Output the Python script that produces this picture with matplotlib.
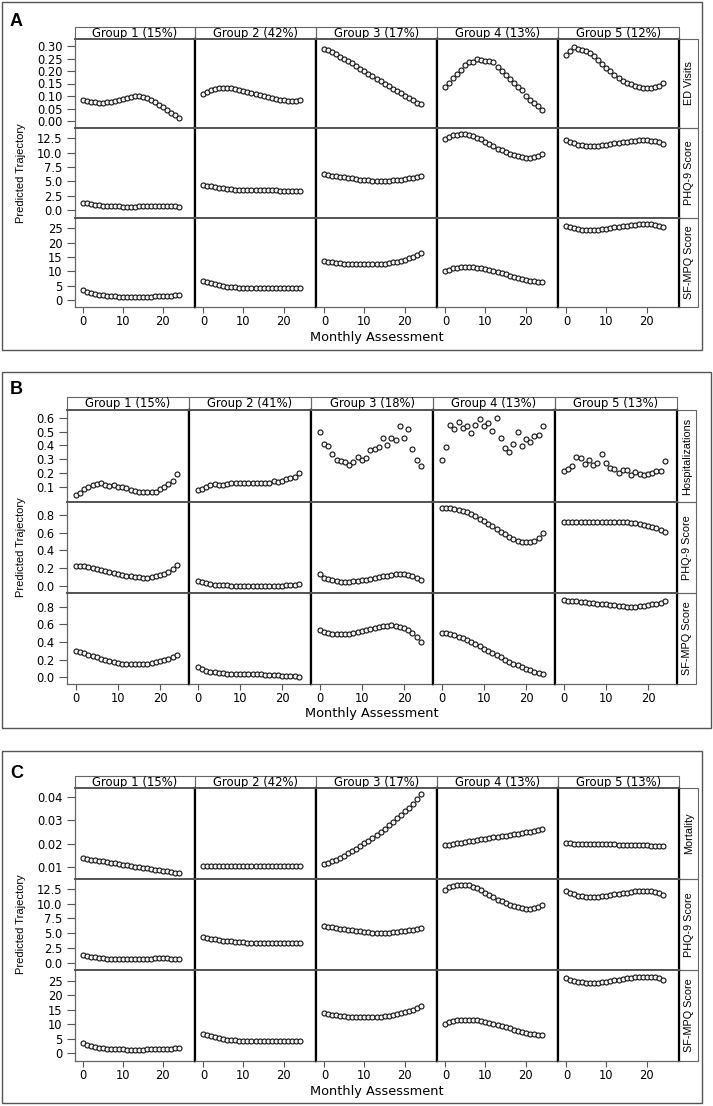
import numpy as np
import matplotlib.pyplot as plt
from matplotlib.patches import Rectangle

W, H = 713, 1106
months = list(range(25))

# ---- panel A: ED visits / PHQ-9 / SF-MPQ ----
A_groups = ["Group 1 (15%)", "Group 2 (42%)", "Group 3 (17%)", "Group 4 (13%)", "Group 5 (12%)"]
A_ed = [
    [0.086, 0.081, 0.077, 0.075, 0.074, 0.074, 0.075, 0.078, 0.082, 0.086, 0.090, 0.094, 0.097,
     0.099, 0.099, 0.097, 0.093, 0.086, 0.077, 0.066, 0.055, 0.044, 0.033, 0.023, 0.014],
    [0.108, 0.116, 0.123, 0.128, 0.132, 0.134, 0.133, 0.131, 0.128, 0.124, 0.120, 0.116, 0.112,
     0.107, 0.103, 0.099, 0.095, 0.091, 0.088, 0.085, 0.083, 0.081, 0.081, 0.082, 0.085],
    [0.289, 0.284, 0.276, 0.268, 0.257, 0.249, 0.241, 0.231, 0.220, 0.209, 0.199, 0.189, 0.180,
     0.169, 0.159, 0.149, 0.140, 0.129, 0.120, 0.111, 0.101, 0.092, 0.083, 0.073, 0.068],
    [0.136, 0.153, 0.171, 0.188, 0.205, 0.225, 0.235, 0.237, 0.249, 0.244, 0.241, 0.239, 0.236,
     0.216, 0.199, 0.184, 0.169, 0.153, 0.137, 0.123, 0.099, 0.085, 0.072, 0.060, 0.045],
    [0.264, 0.280, 0.296, 0.289, 0.284, 0.280, 0.273, 0.260, 0.244, 0.228, 0.212, 0.200, 0.185,
     0.173, 0.161, 0.153, 0.147, 0.140, 0.136, 0.133, 0.133, 0.133, 0.137, 0.141, 0.153],
]
phq = [
    [1.3, 1.15, 1.0, 0.9, 0.8, 0.75, 0.7, 0.7, 0.65, 0.62, 0.6, 0.6, 0.6, 0.6, 0.62, 0.65, 0.68,
     0.7, 0.72, 0.72, 0.72, 0.72, 0.7, 0.68, 0.6],
    [4.4, 4.25, 4.1, 3.95, 3.85, 3.75, 3.65, 3.6, 3.55, 3.5, 3.45, 3.42, 3.4, 3.4, 3.4, 3.4, 3.4,
     3.4, 3.4, 3.38, 3.36, 3.33, 3.3, 3.28, 3.27],
    [6.2, 6.1, 6.0, 5.9, 5.8, 5.7, 5.6, 5.5, 5.4, 5.3, 5.2, 5.15, 5.1, 5.05, 5.05, 5.05, 5.1,
     5.15, 5.2, 5.3, 5.4, 5.5, 5.6, 5.75, 5.95],
    [12.4, 12.8, 13.0, 13.15, 13.2, 13.2, 13.1, 12.9, 12.6, 12.3, 11.9, 11.5, 11.1, 10.7, 10.4,
     10.1, 9.8, 9.6, 9.4, 9.25, 9.15, 9.15, 9.25, 9.45, 9.8],
    [12.2, 11.9, 11.6, 11.4, 11.3, 11.2, 11.15, 11.15, 11.2, 11.3, 11.4, 11.5, 11.6, 11.7, 11.8,
     11.9, 12.0, 12.1, 12.15, 12.2, 12.2, 12.1, 12.0, 11.8, 11.5],
]
sfmpq = [
    [3.4, 2.9, 2.4, 2.0, 1.8, 1.6, 1.5, 1.4, 1.3, 1.2, 1.2, 1.1, 1.1, 1.1, 1.1, 1.1, 1.2, 1.2,
     1.3, 1.3, 1.3, 1.4, 1.5, 1.6, 1.6],
    [6.7, 6.2, 5.8, 5.4, 5.1, 4.8, 4.6, 4.5, 4.4, 4.3, 4.2, 4.2, 4.2, 4.2, 4.3, 4.3, 4.3, 4.3,
     4.3, 4.3, 4.3, 4.3, 4.3, 4.2, 4.1],
    [13.7, 13.4, 13.2, 13.0, 12.8, 12.7, 12.6, 12.5, 12.5, 12.4, 12.4, 12.4, 12.5, 12.5, 12.6,
     12.7, 12.9, 13.1, 13.4, 13.7, 14.1, 14.5, 15.0, 15.6, 16.4],
    [10.1, 10.6, 11.0, 11.3, 11.5, 11.6, 11.6, 11.5, 11.3, 11.1, 10.8, 10.5, 10.1, 9.7, 9.3, 8.9,
     8.5, 8.1, 7.7, 7.3, 7.0, 6.7, 6.5, 6.3, 6.3],
    [25.9, 25.4, 25.0, 24.7, 24.5, 24.4, 24.3, 24.3, 24.4, 24.6, 24.8, 25.0, 25.3, 25.5, 25.7,
     25.9, 26.1, 26.3, 26.4, 26.5, 26.5, 26.4, 26.2, 25.9, 25.5],
]

# ---- panel B: hospitalizations / PHQ-9 / SF-MPQ (probabilities) ----
B_groups = ["Group 1 (15%)", "Group 2 (41%)", "Group 3 (18%)", "Group 4 (13%)", "Group 5 (13%)"]
B_hosp = [
    [0.041, 0.060, 0.089, 0.100, 0.114, 0.121, 0.128, 0.114, 0.112, 0.119, 0.100, 0.100, 0.092,
     0.080, 0.073, 0.065, 0.068, 0.068, 0.065, 0.068, 0.087, 0.103, 0.123, 0.147, 0.192],
    [0.080, 0.089, 0.103, 0.116, 0.121, 0.119, 0.119, 0.123, 0.128, 0.133, 0.128, 0.128, 0.130,
     0.130, 0.130, 0.128, 0.128, 0.130, 0.147, 0.138, 0.143, 0.162, 0.166, 0.171, 0.200],
    [0.497, 0.413, 0.394, 0.341, 0.298, 0.289, 0.279, 0.262, 0.281, 0.315, 0.294, 0.308, 0.365,
     0.373, 0.389, 0.452, 0.406, 0.452, 0.437, 0.543, 0.452, 0.519, 0.373, 0.296, 0.255],
    [0.293, 0.389, 0.550, 0.521, 0.567, 0.526, 0.538, 0.490, 0.550, 0.588, 0.538, 0.560, 0.502,
     0.598, 0.452, 0.382, 0.353, 0.411, 0.497, 0.394, 0.447, 0.427, 0.471, 0.476, 0.543],
    [0.219, 0.233, 0.250, 0.315, 0.310, 0.267, 0.293, 0.262, 0.272, 0.341, 0.272, 0.238, 0.231,
     0.204, 0.224, 0.224, 0.188, 0.207, 0.197, 0.188, 0.195, 0.202, 0.214, 0.214, 0.291],
]
B_phq = [
    [0.225, 0.225, 0.22, 0.21, 0.2, 0.19, 0.18, 0.165, 0.155, 0.145, 0.135, 0.125, 0.115, 0.105,
     0.10, 0.095, 0.09, 0.09, 0.095, 0.105, 0.12, 0.135, 0.16, 0.19, 0.235],
    [0.055, 0.045, 0.03, 0.02, 0.012, 0.006, 0.003, 0.002, 0.001, 0.0, 0.0, 0.0, 0.0, 0.0, 0.0,
     0.0, 0.0, 0.0, 0.0, 0.0, 0.0, 0.002, 0.005, 0.012, 0.018],
    [0.13, 0.09, 0.07, 0.06, 0.05, 0.045, 0.045, 0.045, 0.05, 0.055, 0.06, 0.065, 0.075, 0.085,
     0.095, 0.105, 0.115, 0.125, 0.13, 0.13, 0.13, 0.12, 0.105, 0.085, 0.06],
    [0.88, 0.88, 0.875, 0.87, 0.86, 0.85, 0.83, 0.81, 0.79, 0.76, 0.73, 0.70, 0.67, 0.64, 0.61,
     0.58, 0.55, 0.53, 0.51, 0.495, 0.49, 0.495, 0.51, 0.545, 0.595],
    [0.72, 0.72, 0.72, 0.72, 0.72, 0.72, 0.72, 0.725, 0.725, 0.725, 0.725, 0.725, 0.725, 0.72,
     0.72, 0.715, 0.71, 0.705, 0.70, 0.69, 0.68, 0.665, 0.65, 0.63, 0.605],
]
B_sf = [
    [0.30, 0.285, 0.27, 0.255, 0.24, 0.225, 0.21, 0.195, 0.18, 0.17, 0.16, 0.155, 0.15, 0.145,
     0.145, 0.145, 0.145, 0.15, 0.16, 0.17, 0.18, 0.195, 0.21, 0.23, 0.25],
    [0.12, 0.095, 0.075, 0.065, 0.055, 0.05, 0.045, 0.04, 0.04, 0.04, 0.038, 0.036, 0.035, 0.035,
     0.035, 0.033, 0.03, 0.028, 0.025, 0.022, 0.02, 0.015, 0.012, 0.01, 0.005],
    [0.535, 0.515, 0.50, 0.49, 0.485, 0.485, 0.49, 0.495, 0.505, 0.515, 0.525, 0.54, 0.55, 0.56,
     0.57, 0.58, 0.585, 0.59, 0.585, 0.575, 0.56, 0.535, 0.50, 0.455, 0.40],
    [0.505, 0.50, 0.49, 0.475, 0.46, 0.44, 0.42, 0.40, 0.375, 0.35, 0.325, 0.30, 0.275, 0.25,
     0.225, 0.20, 0.175, 0.155, 0.135, 0.115, 0.095, 0.08, 0.065, 0.05, 0.04],
    [0.875, 0.87, 0.865, 0.86, 0.855, 0.85, 0.845, 0.84, 0.835, 0.83, 0.825, 0.82, 0.815, 0.81,
     0.805, 0.80, 0.80, 0.80, 0.805, 0.81, 0.815, 0.825, 0.835, 0.845, 0.86],
]

# ---- panel C: mortality / PHQ-9 / SF-MPQ ----
C_groups = ["Group 1 (15%)", "Group 2 (42%)", "Group 3 (17%)", "Group 4 (13%)", "Group 5 (13%)"]
C_mort = [
    [0.0137, 0.0134, 0.0132, 0.0129, 0.0126, 0.0124, 0.0121, 0.0118, 0.0116, 0.0113, 0.0110,
     0.0108, 0.0105, 0.0102, 0.0100, 0.0097, 0.0094, 0.0092, 0.0089, 0.0086, 0.0084, 0.0081,
     0.0078, 0.0076, 0.0073],
    [0.0104] * 25,
    [0.0111, 0.0118, 0.0124, 0.0131, 0.0139, 0.0148, 0.0158, 0.0168, 0.0179, 0.0189, 0.0201,
     0.0212, 0.0222, 0.0236, 0.0250, 0.0263, 0.0278, 0.0292, 0.0308, 0.0323, 0.0337, 0.0353,
     0.0369, 0.0389, 0.0412],
    [0.0192, 0.0195, 0.0198, 0.0201, 0.0204, 0.0207, 0.0210, 0.0213, 0.0216, 0.0218, 0.0221,
     0.0224, 0.0227, 0.0229, 0.0232, 0.0234, 0.0237, 0.0240, 0.0242, 0.0245, 0.0248, 0.0251,
     0.0254, 0.0257, 0.0261],
    [0.0201, 0.0201, 0.0200, 0.0200, 0.0200, 0.0199, 0.0199, 0.0199, 0.0198, 0.0198, 0.0198,
     0.0197, 0.0197, 0.0196, 0.0196, 0.0195, 0.0195, 0.0194, 0.0194, 0.0193, 0.0192, 0.0191,
     0.0190, 0.0189, 0.0188],
]

row_names_A = ["ED Visits", "PHQ-9 Score", "SF-MPQ Score"]
row_names_B = ["Hospitalizations", "PHQ-9 Score", "SF-MPQ Score"]
row_names_C = ["Mortality", "PHQ-9 Score", "SF-MPQ Score"]

# layout in pixels (top-left origin)
panels = [
    dict(letter="A", box=(2, 2, 702, 350), letter_y=22, cols=[75, 195, 316, 437, 558, 679],
         strip=(27, 39), rows=[39, 128, 218, 307], right=698, xlim=(-2.1, 28.1), xlab_y=338,
         groups=A_groups, rownames=row_names_A, data=[A_ed, phq, sfmpq],
         ylims=[(-0.028, 0.328), (-1.4, 14.3), (-2.45, 28.6)],
         yticks=[np.arange(0, 0.31, 0.05), np.arange(0, 12.6, 2.5), np.arange(0, 26, 5)],
         yfmt=["{:.2f}", "{:.1f}", "{:.0f}"]),
    dict(letter="B", box=(2, 372, 711, 728), letter_y=390, cols=[67, 189, 311, 433, 555, 677],
         strip=(397, 410), rows=[410, 502, 593, 684], right=696, xlim=(-2.1, 26.9), xlab_y=714,
         groups=B_groups, rownames=row_names_B, data=[B_hosp, B_phq, B_sf],
         ylims=[(-0.006, 0.655), (-0.083, 0.947), (-0.076, 0.955)],
         yticks=[np.arange(0.1, 0.61, 0.1), np.arange(0, 0.81, 0.2), np.arange(0, 0.81, 0.2)],
         yfmt=["{:.1f}", "{:.1f}", "{:.1f}"]),
    dict(letter="C", box=(2, 751, 702, 1103), letter_y=773, cols=[75, 195, 316, 437, 558, 679],
         strip=(776, 788), rows=[788, 879, 970, 1061], right=698, xlim=(-2.1, 28.1), xlab_y=1091,
         groups=C_groups, rownames=row_names_C, data=[C_mort, phq, sfmpq],
         ylims=[(0.0049, 0.0437), (-1.24, 14.2), (-2.8, 28.8)],
         yticks=[np.arange(0.01, 0.041, 0.01), np.arange(0, 12.6, 2.5), np.arange(0, 26, 5)],
         yfmt=["{:.2f}", "{:.1f}", "{:.0f}"]),
]

narrow = ["Liberation Sans", "DejaVu Sans"]

fig = plt.figure(figsize=(W / 100, H / 100), dpi=100)
bg = fig.add_axes([0, 0, 1, 1])
bg.set_xlim(0, W)
bg.set_ylim(H, 0)
bg.axis("off")


def px_axes(x0, y0, x1, y1):
    return fig.add_axes([x0 / W, 1 - y1 / H, (x1 - x0) / W, (y1 - y0) / H])


for p in panels:
    bx0, by0, bx1, by1 = p["box"]
    bg.add_patch(Rectangle((bx0, by0), bx1 - bx0, by1 - by0, fill=False, ec="#555", lw=1.0))
    bg.text(10, p["letter_y"], p["letter"], fontsize=13, fontweight="bold",
            family=["Liberation Sans", "DejaVu Sans"], va="center", ha="left")
    cols, rows = p["cols"], p["rows"]
    s0, s1 = p["strip"]
    for j, g in enumerate(p["groups"]):
        bg.add_patch(Rectangle((cols[j], s0), cols[j + 1] - cols[j], s1 - s0,
                               fill=False, ec="#666", lw=0.8))
        bg.text((cols[j] + cols[j + 1]) / 2, (s0 + s1) / 2 + 0.5, g, fontsize=8.4,
                ha="center", va="center")
    for i, rn in enumerate(p["rownames"]):
        bg.add_patch(Rectangle((cols[-1], rows[i]), p["right"] - cols[-1], rows[i + 1] - rows[i],
                               fill=False, ec="#666", lw=0.8))
        bg.text((cols[-1] + p["right"]) / 2 + 1, (rows[i] + rows[i + 1]) / 2, rn, fontsize=7.8,
                family=narrow, rotation=90, ha="center", va="center")
    bg.text((cols[0] + cols[-1]) / 2, p["xlab_y"], "Monthly Assessment", fontsize=9.3,
            ha="center", va="center")
    bg.text(21, (rows[1] + rows[2]) / 2, "Predicted Trajectory", fontsize=8,
            family=narrow, rotation=90, ha="center", va="center")

    for i in range(3):
        for j in range(5):
            ax = px_axes(cols[j], rows[i], cols[j + 1], rows[i + 1])
            ax.plot(months, p["data"][i][j], ls="none", marker="o", ms=3.6,
                    mfc="#f4f4f4", mec="#111", mew=0.8)
            ax.set_xlim(*p["xlim"])
            ax.set_ylim(*p["ylims"][i])
            for side in ("left", "right"):
                ax.spines[side].set_linewidth(1.6)
                ax.spines[side].set_color("#000")
            for side in ("top", "bottom"):
                ax.spines[side].set_linewidth(1.4)
                ax.spines[side].set_color("#555")
            if j == 0:
                ax.spines["left"].set_linewidth(0.9)
                ax.spines["left"].set_color("#666")
                ax.set_yticks(p["yticks"][i])
                ax.set_yticklabels([p["yfmt"][i].format(v) for v in p["yticks"][i]])
                ax.tick_params(axis="y", length=6, width=0.8, color="#555", labelsize=8.3, pad=3)
            else:
                ax.set_yticks([])
            if i == 2:
                ax.spines["bottom"].set_linewidth(0.9)
                ax.spines["bottom"].set_color("#666")
                ax.set_xticks([0, 10, 20])
                ax.tick_params(axis="x", length=4.3, width=0.8, color="#555", labelsize=8.3, pad=1.5)
            else:
                ax.set_xticks([])

fig.savefig("out.png", dpi=100)
